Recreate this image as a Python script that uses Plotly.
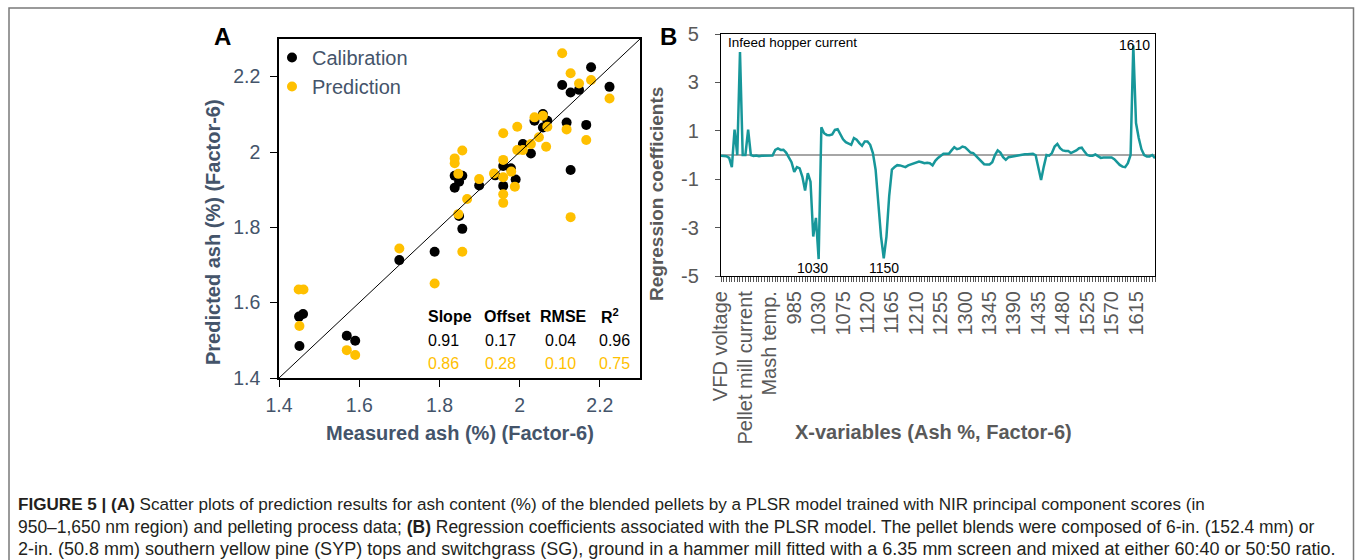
import plotly.graph_objects as go

W, H = 1355, 560

# ---------------- Panel A data ----------------
cal_measured = [1.451, 1.450, 1.460, 1.569, 1.590, 1.700, 1.788, 1.838, 1.838, 1.857, 1.849,
                1.849, 1.857, 1.899, 1.939, 1.959, 1.959, 1.978, 1.990, 2.008, 2.028, 2.037,
                2.058, 2.058, 2.069, 2.106, 2.127, 2.148, 2.178, 2.224, 2.117, 2.166, 2.127]
cal_predicted = [1.485, 1.563, 1.570, 1.512, 1.499, 1.713, 1.735, 1.905, 1.937, 1.937, 1.921,
                 1.830, 1.796, 1.911, 1.938, 1.963, 1.910, 1.957, 1.927, 2.021, 1.996, 2.083,
                 2.101, 2.065, 2.083, 2.178, 2.158, 2.165, 2.225, 2.173, 2.078, 2.072, 1.952]

pred_measured = [1.449, 1.461, 1.451, 1.569, 1.590, 1.700, 1.788, 1.838, 1.838, 1.857, 1.847,
                 1.847, 1.857, 1.869, 1.899, 1.936, 1.959, 1.959, 1.959, 1.959, 1.959, 1.979,
                 1.988, 1.994, 1.994, 2.008, 2.028, 2.037, 2.048, 2.058, 2.069, 2.066, 2.106,
                 2.127, 2.148, 2.178, 2.224, 2.117, 2.166, 2.127]
pred_predicted = [1.635, 1.635, 1.538, 1.474, 1.461, 1.744, 1.651, 1.983, 1.970, 2.004, 1.942,
                  1.835, 1.735, 1.875, 1.928, 1.943, 2.050, 1.979, 1.933, 1.888, 1.865, 1.948,
                  1.908, 2.067, 2.005, 2.005, 2.021, 2.092, 2.039, 2.096, 2.067, 2.014, 2.262,
                  2.209, 2.182, 2.191, 2.142, 2.060, 2.032, 1.827]

a_ticks = [1.4, 1.6, 1.8, 2.0, 2.2]
stats_headers = ["Slope", "Offset", "RMSE", "R<sup>2</sup>"]
cal_stats = ["0.91", "0.17", "0.04", "0.96"]
pred_stats = ["0.86", "0.28", "0.10", "0.75"]

# ---------------- Panel B data ----------------
process_vars = ["VFD voltage", "Process var 2", "Process var 3", "Process var 4",
                "Process var 5", "Process var 6", "Process var 7", "Infeed hopper current",
                "Process var 9", "Pellet mill current", "Process var 11", "Process var 12",
                "Process var 13", "Process var 14", "Process var 15", "Process var 16",
                "Process var 17", "Process var 18", "Mash temp.", "Process var 20"]
wavelengths = list(range(950, 1651, 5))
coefficients = [
    -0.03, -0.03, -0.05, -0.12, -0.50, 1.05, 0.00, 4.25, 0.00, 0.00,
    1.05, 0.00, -0.04, -0.02, -0.05, -0.03, -0.02, -0.04, -0.02, -0.02,
    0.21, 0.27, 0.21, 0.22, 0.10, -0.13, -0.30, -0.70, -0.50, -0.55,
    -0.90, -1.47, -0.75, -1.10, -3.37, -2.60, -4.30, 1.15, 0.90, 0.83,
    0.82, 0.85, 1.04, 1.07, 0.83, 0.65, 0.53, 0.46, 0.42, 0.70,
    0.63, 0.49, 0.38, 0.56, 0.56, 0.42, 0.08, -0.61, -2.00, -3.37,
    -4.27, -3.37, -1.70, -0.60, -0.50, -0.42, -0.43, -0.45, -0.50, -0.43,
    -0.39, -0.34, -0.28, -0.27, -0.30, -0.34, -0.32, -0.34, -0.43, -0.24,
    -0.12, -0.03, 0.05, 0.05, 0.05, 0.19, 0.32, 0.24, 0.27, 0.35,
    0.32, 0.21, 0.10, 0.08, -0.03, -0.13, -0.24, -0.38, -0.39, -0.39,
    -0.30, 0.00, 0.19, 0.10, -0.09, -0.20, -0.09, -0.06, -0.06, -0.03,
    -0.01, 0.02, 0.03, 0.03, 0.05, 0.05, -0.01, -0.55, -1.03, -0.48,
    0.00, -0.03, 0.08, 0.35, 0.46, 0.28, 0.19, 0.17, 0.17, 0.08,
    0.13, 0.19, 0.28, 0.30, 0.14, 0.00, -0.03, -0.03, 0.02, -0.06,
    -0.12, -0.10, -0.10, -0.08, -0.10, -0.17, -0.30, -0.41, -0.48, -0.50,
    -0.34, 0.00, 4.52, 1.32, 0.70, 0.24, 0.00, -0.06, -0.06, 0.00,
    -0.13,
]
b_yticks = [5, 3, 1, -1, -3, -5]
b_yticklabels = ["5", "3", "1", "-1", "-3", "-5"]
label_every = 9

x_labels = process_vars + [str(w) for w in wavelengths]
x_pos = list(range(len(x_labels)))
b_tickvals = x_pos[::label_every]
b_ticktext = x_labels[::label_every]

# ---------------- colours / fonts ----------------
FONT = "Arial, Liberation Sans, sans-serif"
SLATE = "#44546A"
GREY = "#595959"
ORANGE = "#FFC000"
TEAL = "#17979A"


def px(x):
    return x / W


def py(y):
    return 1 - y / H


fig = go.Figure()

fig.add_trace(go.Scatter(x=cal_measured, y=cal_predicted, mode="markers", name="Calibration",
                         marker=dict(color="black", size=10), xaxis="x", yaxis="y"))
fig.add_trace(go.Scatter(x=pred_measured, y=pred_predicted, mode="markers", name="Prediction",
                         marker=dict(color=ORANGE, size=10), xaxis="x", yaxis="y"))
fig.add_trace(go.Scatter(x=x_pos, y=coefficients, mode="lines", showlegend=False,
                         line=dict(color=TEAL, width=2.5), xaxis="x2", yaxis="y2"))

# 1:1 line in panel A
fig.add_shape(type="line", xref="x", yref="y", x0=a_ticks[0], y0=a_ticks[0], x1=2.3, y1=2.3,
              line=dict(color="black", width=1))

# outer frame
fig.add_shape(type="rect", xref="paper", yref="paper", x0=px(9), x1=px(1353.5), y0=-0.05, y1=py(8),
              line=dict(color="#7a7a7a", width=1.5), layer="below")

ann = []
# panel letters
ann.append(dict(text="<b>A</b>", x=px(222), y=py(37), font=dict(size=24, color="black")))
ann.append(dict(text="<b>B</b>", x=px(668), y=py(37), font=dict(size=24, color="black")))

# axis titles
ann.append(dict(text="<b>Predicted ash (%) (Factor-6)</b>", x=px(213), y=py(232), textangle=-90,
                font=dict(size=20, color=SLATE)))
ann.append(dict(text="<b>Measured ash (%) (Factor-6)</b>", x=px(460), y=py(433),
                font=dict(size=20, color=SLATE)))
ann.append(dict(text="<b>Regression coefficients</b>", x=px(656), y=py(194), textangle=-90,
                font=dict(size=19, color=GREY)))
ann.append(dict(text="<b>X-variables (Ash %, Factor-6)</b>", x=px(933), y=py(432),
                font=dict(size=20, color=GREY)))

# statistics table
head_x = [450, 507, 563, 610]
val_x = [443, 500, 560, 614]
for i in range(4):
    ann.append(dict(text="<b>" + stats_headers[i] + "</b>", x=px(head_x[i]), y=py(316),
                    font=dict(size=16, color="black")))
    ann.append(dict(text=cal_stats[i], x=px(val_x[i]), y=py(340), font=dict(size=16, color="black")))
    ann.append(dict(text=pred_stats[i], x=px(val_x[i]), y=py(363), font=dict(size=16, color=ORANGE)))

# panel B peak labels
ann.append(dict(text="Infeed hopper current", x=px(726), y=py(43), xanchor="left",
                font=dict(size=13.5, color="black")))
ann.append(dict(text="1030", x=px(812), y=py(268), font=dict(size=14, color="black")))
ann.append(dict(text="1150", x=px(884), y=py(268), font=dict(size=14, color="black")))
ann.append(dict(text="1610", x=px(1134), y=py(45), font=dict(size=14, color="black")))

# caption
cap_lines = [
    "<b>FIGURE 5 | (A)</b> Scatter plots of prediction results for ash content (%) of the blended pellets by a PLSR model trained with NIR principal component scores (in",
    "950–1,650 nm region) and pelleting process data; <b>(B)</b> Regression coefficients associated with the PLSR model. The pellet blends were composed of 6-in. (152.4 mm) or",
    "2-in. (50.8 mm) southern yellow pine (SYP) tops and switchgrass (SG), ground in a hammer mill fitted with a 6.35 mm screen and mixed at either 60:40 or 50:50 ratio.",
]
cap_sizes = [17.1, 17.45, 18.0]
for i, line in enumerate(cap_lines):
    ann.append(dict(text=line, x=px(16), y=py(504 + 22.5 * i), xanchor="left",
                    font=dict(size=cap_sizes[i], color="#231F20")))

for a in ann:
    a.setdefault("xref", "paper")
    a.setdefault("yref", "paper")
    a.setdefault("showarrow", False)
    a.setdefault("xanchor", "center")
    a.setdefault("yanchor", "middle")

fig.update_layout(
    width=W, height=H,
    margin=dict(l=0, r=0, t=0, b=0, pad=0, autoexpand=False),
    paper_bgcolor="white", plot_bgcolor="white",
    font=dict(family=FONT),
    showlegend=True,
    legend=dict(x=px(272), y=py(38), xanchor="left", yanchor="top",
                bgcolor="rgba(0,0,0,0)", font=dict(size=20, color=SLATE),
                tracegroupgap=0, itemwidth=30),
    annotations=ann,
    xaxis=dict(domain=[px(279), px(640)], range=[1.4, 2.3], tickvals=a_ticks,
               showgrid=False, zeroline=False, showline=True, mirror=True, automargin=False,
               linecolor="black", linewidth=1.5, ticks="outside", ticklen=7,
               tickcolor="black", tickwidth=1.2, ticklabelstandoff=2,
               tickfont=dict(size=19.5, color=SLATE), anchor="y"),
    yaxis=dict(domain=[py(378), py(39)], range=[1.4, 2.3], tickvals=a_ticks,
               showgrid=False, zeroline=False, showline=True, mirror=True, automargin=False,
               linecolor="black", linewidth=1.5, ticks="outside", ticklen=7,
               tickcolor="black", tickwidth=1.2, ticklabelstandoff=6,
               tickfont=dict(size=19.5, color=SLATE), anchor="x"),
    xaxis2=dict(domain=[px(721), px(1155)], range=[0, len(x_labels) - 1],
                tickmode="array", tickvals=b_tickvals, ticktext=b_ticktext, tickangle=-90,
                showgrid=False, zeroline=False, showline=True, mirror=True, automargin=False,
                linecolor="black", linewidth=1.2, ticks="outside", ticklen=5,
                tickcolor="#555555", tickwidth=1, ticklabelstandoff=1,
                minor=dict(ticks="outside", dtick=1, tick0=0, ticklen=5,
                           tickcolor="#555555", tickwidth=1, showgrid=False),
                tickfont=dict(size=20, color=GREY), anchor="y2"),
    yaxis2=dict(domain=[py(276), py(34)], range=[-5, 5], tickmode="array",
                tickvals=b_yticks, ticktext=b_yticklabels,
                showgrid=False, zeroline=True, zerolinecolor="#A6A6A6", zerolinewidth=1.5,
                showline=True, mirror=True, linecolor="black", linewidth=1.2, automargin=False,
                ticks="outside", ticklen=5, tickcolor="#555555",
                ticklabelstandoff=12, tickfont=dict(size=20, color=GREY), anchor="x2"),
)

fig.write_html("out.html")
